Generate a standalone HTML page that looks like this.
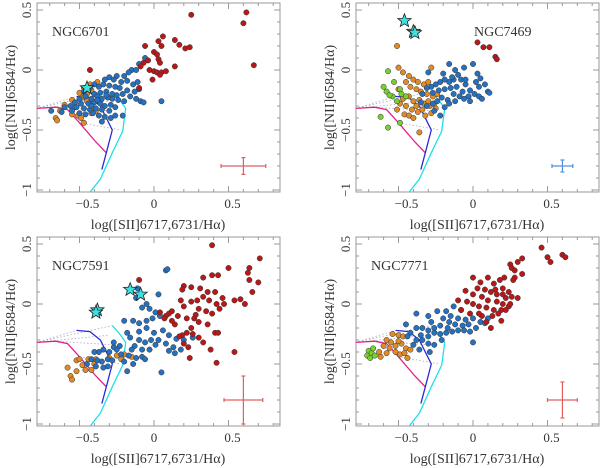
<!DOCTYPE html>
<html><head><meta charset="utf-8"><style>
body{margin:0;background:#fff}
svg{display:block}
text{font-family:"Liberation Serif",serif;fill:#333}
</style></head><body>
<svg id="c" width="600" height="468" viewBox="0 0 600 468"></svg>
<script>
const panelNames=["NGC6701","NGC7469","NGC7591","NGC7771"];
const xTicks=[-0.5,0,0.5];
const yTicks=[-1,-0.5,0,0.5];
const xTickLabels=["\u22120.5","0","0.5"];
const yTickLabels=["\u22121","\u22120.5","0","0.5"];
const magentaCurve=[[-0.79,-0.32],[-0.66,-0.31],[-0.58,-0.33],[-0.5,-0.44],[-0.39,-0.6],[-0.32,-0.69]];
const blueCurve=[[-0.52,-0.22],[-0.43,-0.23],[-0.36,-0.3],[-0.32,-0.4],[-0.28,-0.5],[-0.32,-0.69],[-0.35,-0.83]];
const cyanCurve=[[-0.28,-0.18],[-0.23,-0.25],[-0.19,-0.32],[-0.21,-0.51],[-0.28,-0.69],[-0.36,-0.91],[-0.43,-1.02]];
const dottedLines=[[[-0.79,-0.32],[-0.52,-0.22]],[[-0.79,-0.32],[-0.28,-0.18]],[[-0.79,-0.32],[-0.3,-0.26]],[[-0.66,-0.31],[-0.28,-0.34]],[[-0.5,-0.44],[-0.22,-0.5]]];
const p1Red=[[0.25,0.46],[0.62,0.48],[0.6,0.39],[0.67,0.04],[-0.43,0.0],[0.06,0.28],[0.03,0.24],[-0.06,0.2],[0.05,0.2],[0.14,0.25],[0.17,0.21],[0.21,0.18],[0.24,0.19],[0,0.15],[0.02,0.13],[0.03,0.09],[0.04,0.06],[-0.04,0.08],[-0.07,0.06],[-0.03,0.0],[0,-0.01],[0.02,-0.02],[0.05,-0.02],[0.08,-0.01],[-0.01,-0.08],[0.14,0.03],[-0.1,-0.15],[-0.09,0.03],[0.04,-0.04]];
const p1Blue=[[-0.06,0.1],[-0.1,0.05],[-0.15,0.0],[-0.12,0.0],[-0.17,-0.02],[-0.2,-0.05],[-0.25,-0.05],[-0.27,-0.08],[-0.3,-0.06],[-0.33,-0.08],[-0.22,-0.1],[-0.18,-0.09],[-0.14,-0.12],[-0.11,-0.1],[-0.1,-0.16],[-0.13,-0.18],[-0.18,-0.17],[-0.23,-0.15],[-0.26,-0.14],[-0.3,-0.13],[-0.34,-0.12],[-0.37,-0.14],[-0.4,-0.12],[-0.43,-0.15],[-0.47,-0.18],[-0.4,-0.2],[-0.36,-0.19],[-0.32,-0.18],[-0.28,-0.2],[-0.25,-0.21],[-0.21,-0.2],[-0.16,-0.22],[-0.12,-0.24],[-0.09,-0.26],[-0.07,-0.27],[0.05,-0.26],[-0.2,-0.26],[-0.24,-0.25],[-0.28,-0.24],[-0.31,-0.23],[-0.35,-0.24],[-0.38,-0.22],[-0.42,-0.24],[-0.46,-0.22],[-0.5,-0.24],[-0.53,-0.27],[-0.49,-0.28],[-0.44,-0.28],[-0.4,-0.27],[-0.36,-0.28],[-0.33,-0.3],[-0.29,-0.29],[-0.26,-0.31],[-0.3,-0.34],[-0.35,-0.33],[-0.39,-0.32],[-0.43,-0.33],[-0.47,-0.32],[-0.52,-0.31],[-0.56,-0.3],[-0.6,-0.31],[-0.55,-0.34],[-0.5,-0.36],[-0.46,-0.37],[-0.41,-0.36],[-0.37,-0.38],[-0.33,-0.39],[-0.29,-0.4],[-0.26,-0.38],[-0.21,-0.38],[-0.35,-0.43],[-0.62,-0.35],[-0.69,-0.34],[-0.42,-0.3],[-0.38,-0.25],[-0.32,-0.21]];
const p1Orange=[[-0.38,-0.1],[-0.43,-0.12],[-0.47,-0.15],[-0.42,-0.17],[-0.45,-0.2],[-0.5,-0.19],[-0.42,-0.28],[-0.53,-0.31],[-0.6,-0.29],[-0.63,-0.34],[-0.66,-0.4],[-0.65,-0.42],[-0.55,-0.37],[-0.51,-0.38],[-0.49,-0.4],[-0.47,-0.44],[-0.42,-0.36],[-0.39,-0.34],[-0.55,-0.25],[-0.48,-0.23],[-0.45,-0.26]];
const p1Green=[];
const p1Stars=[[-0.45,-0.15]];
const p1Err=[0.6,-0.8,0.15,0.07];
const p2Red=[[0.03,0.23],[0.07,0.19],[0.11,0.19],[0.15,0.11],[0.16,0.09]];
const p2Blue=[[-0.3,-0.02],[-0.2,-0.03],[-0.16,0.05],[-0.12,0.0],[-0.06,0.02],[0.0,0.05],[0.03,-0.03],[0.05,-0.07],[0.08,-0.12],[0.1,-0.18],[0.11,-0.19],[0.04,-0.22],[0.06,-0.24],[0.01,-0.2],[-0.02,-0.17],[-0.05,-0.12],[-0.08,-0.08],[-0.1,-0.04],[-0.13,-0.08],[-0.16,-0.1],[-0.19,-0.08],[-0.22,-0.1],[-0.25,-0.12],[-0.28,-0.14],[-0.31,-0.15],[-0.27,-0.19],[-0.23,-0.17],[-0.19,-0.16],[-0.15,-0.15],[-0.11,-0.14],[-0.07,-0.18],[-0.03,-0.22],[-0.09,-0.22],[-0.13,-0.2],[-0.17,-0.25],[-0.21,-0.23],[-0.24,-0.26],[-0.27,-0.28],[-0.31,-0.3],[-0.35,-0.27],[-0.19,-0.31],[-0.16,-0.28],[-0.12,-0.26],[-0.06,-0.24],[-0.02,-0.26],[-0.22,-0.38],[-0.26,-0.34],[-0.05,-0.08],[0.04,-0.14],[0.02,-0.1],[-0.14,-0.06],[-0.34,-0.2]];
const p2Orange=[[-0.51,0.2],[-0.5,0.02],[-0.47,-0.02],[-0.43,-0.05],[-0.4,-0.08],[-0.37,-0.1],[-0.33,-0.12],[-0.3,-0.1],[-0.28,0.02],[-0.45,-0.1],[-0.42,-0.14],[-0.38,-0.16],[-0.35,-0.18],[-0.31,-0.2],[-0.27,-0.22],[-0.5,-0.16],[-0.47,-0.24],[-0.43,-0.22],[-0.4,-0.26],[-0.36,-0.25],[-0.33,-0.28],[-0.29,-0.3],[-0.25,-0.32],[-0.45,-0.3],[-0.41,-0.33],[-0.37,-0.35],[-0.32,-0.38],[-0.28,-0.36],[-0.46,-0.37],[-0.43,-0.38],[-0.4,-0.4],[-0.36,-0.52],[-0.49,-0.28],[-0.51,-0.33],[-0.38,-0.3],[-0.34,-0.33],[-0.3,-0.26],[-0.26,-0.28],[-0.24,-0.2]];
const p2Green=[[-0.57,-0.01],[-0.53,-0.1],[-0.6,-0.14],[-0.58,-0.18],[-0.54,-0.22],[-0.49,-0.16],[-0.48,-0.2],[-0.45,-0.22],[-0.62,-0.39],[-0.57,-0.48],[-0.49,-0.44],[-0.51,-0.26],[-0.56,-0.21]];
const p2Stars=[[-0.46,0.41],[-0.4,0.32],[-0.39,0.31]];
const p2Err=[0.6,-0.8,0.07,0.05];
const p3Red=[[0.39,0.49],[0.71,0.38],[0.64,0.3],[0.5,0.3],[0.63,0.26],[0.7,0.18],[0.64,0.2],[0.43,0.24],[0.39,0.24],[0.33,0.22],[0.2,0.15],[0.19,0.12],[0.25,0.14],[0.31,0.13],[0.36,0.1],[0.41,0.1],[0.46,0.05],[0.58,0.04],[0.66,0.1],[0.61,0.0],[0.54,0.03],[0.47,0.0],[0.42,0.0],[0.37,0.03],[0.33,0.06],[0.29,0.03],[0.25,0.02],[0.18,0.03],[0.2,-0.02],[0.3,-0.04],[0.35,-0.06],[0.39,-0.08],[0.44,-0.04],[0.28,-0.09],[0.22,-0.12],[0.16,-0.1],[0.12,-0.06],[0.1,-0.08],[0.08,-0.1],[0.14,-0.17],[0.3,-0.15],[0.36,-0.17],[0.25,-0.2],[0.22,-0.24],[0.19,-0.26],[0.26,-0.25],[0.3,-0.28],[0.33,-0.32],[0.2,-0.33],[0.23,-0.36],[0.17,-0.27],[0.41,-0.24],[0.43,-0.24],[0.38,-0.38],[0.54,-0.4],[0.24,-0.45],[0.42,-0.49],[-0.1,0.2],[0.04,-0.07],[0.07,-0.12],[0.12,-0.14],[0.27,-0.12]];
const p3Blue=[[0.08,0.28],[0.09,0.29],[-0.11,0.13],[-0.05,0.0],[0.03,0.08],[-0.12,0.05],[-0.08,-0.03],[-0.03,-0.04],[0.01,-0.07],[0.04,-0.1],[-0.01,-0.12],[-0.05,-0.14],[-0.1,-0.16],[-0.14,-0.14],[-0.2,-0.14],[-0.1,-0.23],[-0.05,-0.2],[0,-0.24],[0.06,-0.22],[0.1,-0.26],[0.03,-0.3],[-0.02,-0.3],[-0.06,-0.32],[-0.1,-0.3],[-0.13,-0.35],[-0.08,-0.38],[-0.03,-0.38],[0.01,-0.34],[0.08,-0.33],[0.13,-0.36],[0.18,-0.38],[0.26,-0.28],[0.15,-0.29],[0.2,-0.3],[-0.16,-0.28],[-0.18,-0.24],[-0.23,-0.35],[-0.27,-0.36],[-0.3,-0.4],[-0.34,-0.38],[-0.37,-0.4],[-0.4,-0.4],[-0.38,-0.47],[-0.35,-0.48],[-0.31,-0.46],[-0.28,-0.47],[-0.31,-0.52],[-0.34,-0.53],[-0.42,-0.46],[-0.45,-0.5],[-0.39,-0.52],[-0.17,-0.43],[-0.12,-0.45],[-0.08,-0.44],[-0.2,-0.48],[-0.14,-0.5],[-0.18,-0.56],[0.05,-0.57],[-0.06,-0.46],[-0.15,-0.38],[-0.27,-0.32],[0.14,-0.41],[0.1,-0.39],[-0.22,-0.42],[-0.25,-0.38]];
const p3Orange=[[-0.58,-0.53],[-0.56,-0.6],[-0.55,-0.63],[-0.52,-0.47],[-0.5,-0.46],[-0.48,-0.51],[-0.46,-0.55],[-0.42,-0.55],[-0.4,-0.5],[-0.39,-0.46],[-0.44,-0.46],[-0.52,-0.56],[-0.3,-0.45],[-0.25,-0.43],[-0.22,-0.46],[-0.2,-0.42],[-0.15,-0.44]];
const p3Green=[];
const p3Stars=[[-0.38,-0.05],[-0.39,-0.07],[-0.16,0.12],[-0.09,0.08]];
const p3Err=[0.6,-0.8,0.13,0.2];
const p4Red=[[0.46,0.47],[0.5,0.39],[0.52,0.35],[0.6,0.41],[0.62,0.39],[0.33,0.38],[0.3,0.35],[0.25,0.33],[0.26,0.3],[0.28,0.28],[0.33,0.25],[0.28,0.22],[0.27,0.2],[0.21,0.22],[0.18,0.2],[0.1,0.22],[0.0,0.22],[0.05,0.18],[0.14,0.17],[0.2,0.13],[0.24,0.1],[0.26,0.06],[0.3,0.05],[0.22,0.05],[0.16,0.08],[0.12,0.1],[0.08,0.12],[0.03,0.13],[-0.05,0.11],[0.0,0.08],[0.06,0.06],[0.1,0.03],[0.16,0.02],[0.2,0.0],[0.24,-0.02],[0.19,-0.05],[0.14,-0.05],[0.09,-0.03],[0.04,-0.02],[0.0,0.0],[-0.04,0.02],[-0.08,-0.05],[0.06,-0.1],[0.13,-0.1],[0.17,-0.08],[0.22,-0.05],[0.19,-0.14],[0.12,-0.2],[0.09,-0.15],[0.04,-0.08],[-0.02,-0.08],[-0.1,0.03],[0.15,0.12],[0.2,0.08],[0.25,0.0]];
const p4Blue=[[-0.08,-0.05],[-0.13,-0.02],[-0.18,-0.06],[-0.24,-0.06],[-0.3,-0.1],[-0.2,-0.12],[-0.15,-0.1],[-0.1,-0.12],[-0.05,-0.13],[0.0,-0.12],[0.05,-0.15],[0.08,-0.16],[0.1,-0.12],[-0.03,-0.17],[-0.07,-0.18],[-0.12,-0.17],[-0.17,-0.2],[-0.22,-0.18],[-0.26,-0.2],[-0.3,-0.22],[-0.34,-0.2],[-0.38,-0.08],[-0.38,-0.2],[-0.42,-0.24],[-0.35,-0.26],[-0.3,-0.27],[-0.26,-0.24],[-0.22,-0.25],[-0.18,-0.24],[-0.14,-0.23],[-0.1,-0.22],[-0.06,-0.22],[-0.02,-0.23],[0.02,-0.2],[0.0,-0.32],[-0.34,-0.3],[-0.38,-0.3],[-0.3,-0.33],[-0.26,-0.34],[-0.21,-0.3],[-0.4,-0.34],[-0.36,-0.38],[-0.29,-0.4],[-0.44,-0.27],[-0.28,-0.15],[-0.16,-0.15],[-0.45,-0.17]];
const p4Orange=[[-0.54,-0.25],[-0.5,-0.26],[-0.47,-0.27],[-0.58,-0.3],[-0.55,-0.32],[-0.6,-0.35],[-0.56,-0.37],[-0.52,-0.35],[-0.48,-0.33],[-0.45,-0.37],[-0.42,-0.38],[-0.52,-0.4],[-0.49,-0.42],[-0.46,-0.41],[-0.63,-0.4],[-0.62,-0.44],[-0.44,-0.45],[-0.5,-0.31],[-0.58,-0.41]];
const p4Green=[[-0.7,-0.39],[-0.68,-0.41],[-0.71,-0.43],[-0.67,-0.37],[-0.69,-0.45],[-0.66,-0.43]];
const p4Stars=[];
const p4Err=[0.6,-0.8,0.1,0.15];

const NS="http://www.w3.org/2000/svg";
const svg=document.getElementById('c');
function mk(tag,attrs,parent){const e=document.createElementNS(NS,tag);for(const k in attrs)e.setAttribute(k,attrs[k]);(parent||svg).appendChild(e);return e;}
const panels=[
 {ox:37,oy:3,red:p1Red,blue:p1Blue,orange:p1Orange,green:p1Green,stars:p1Stars,err:p1Err,errColor:"#e06060",labX:52,labY:36,ylx:10,xlc:158},
 {ox:356,oy:3,red:p2Red,blue:p2Blue,orange:p2Orange,green:p2Green,stars:p2Stars,err:p2Err,errColor:"#5090e0",labX:474,labY:36,ylx:329,xlc:477},
 {ox:37,oy:237,red:p3Red,blue:p3Blue,orange:p3Orange,green:p3Green,stars:p3Stars,err:p3Err,errColor:"#e06060",labX:52,labY:270,ylx:10,xlc:158},
 {ox:356,oy:237,red:p4Red,blue:p4Blue,orange:p4Orange,green:p4Green,stars:p4Stars,err:p4Err,errColor:"#e06060",labX:371,labY:270,ylx:329,xlc:477}
];
const W=243,H=189,SX=149,SY=120;
panels.forEach((p,i)=>{
 const g=mk('g',{});
 
 
 const x0=p.ox+117, y0=p.oy+67;
 const xs=v=>x0+v*SX, ys=v=>y0-v*SY;
 const cl='pc'+i;
 const cp=mk('clipPath',{id:cl},g);mk('rect',{x:p.ox,y:p.oy,width:W,height:H},cp);
 const frame=mk('rect',{x:p.ox,y:p.oy,width:W,height:H,fill:'none',stroke:'#999','stroke-width':1},g);
 
 
 for(let k=-8;k<=8;k++){const v=k/10,x=xs(v);if(x<p.ox||x>p.ox+W)continue;const L=(k%5===0)?6:3;
  mk('line',{x1:x,y1:p.oy+H,x2:x,y2:p.oy+H-L,stroke:'#999'},g);mk('line',{x1:x,y1:p.oy,x2:x,y2:p.oy+L,stroke:'#999'},g);}
 for(let k=-10;k<=5;k++){const v=k/10,y=ys(v);if(y<p.oy||y>p.oy+H)continue;const L=(k%5===0)?6:3;
  mk('line',{x1:p.ox,y1:y,x2:p.ox+L,y2:y,stroke:'#999'},g);mk('line',{x1:p.ox+W,y1:y,x2:p.ox+W-L,y2:y,stroke:'#999'},g);}
 xTicks.forEach((v,j)=>{const t=mk('text',{x:xs(v)+(v<0?8:(v>0?4:0)),y:p.oy+H+16,'text-anchor':'middle','font-size':13},g);t.textContent=xTickLabels[j];
  
  });
 yTicks.forEach((v,j)=>{const y=ys(v);const t=mk('text',{x:0,y:0,'text-anchor':'middle','font-size':13,transform:`translate(${p.ox-6},${y}) rotate(-90)`},g);t.textContent=yTickLabels[j];
  
  });
 const xl=mk('text',{x:p.xlc,y:p.oy+H+37,'text-anchor':'middle','font-size':14},g);xl.textContent='log([SII]6717,6731/H\u03b1)';
 
 
 const yl=mk('text',{x:0,y:0,'text-anchor':'middle','font-size':14,transform:`translate(${p.ylx+5},${p.oy+H/2}) rotate(-90)`},g);yl.textContent='log([NII]6584/H\u03b1)';
 
 
 const nm=mk('text',{x:p.labX,y:p.labY,'font-size':14},g);nm.textContent=panelNames[i];
 
 
 const inner=mk('g',{'clip-path':`url(#${cl})`},g);
 dottedLines.forEach(l=>{const d=mk('line',{x1:xs(l[0][0]),y1:ys(l[0][1]),x2:xs(l[1][0]),y2:ys(l[1][1]),stroke:'#aab','stroke-width':0.8,'stroke-dasharray':'1.5,2'},inner);
  
  });
 [[magentaCurve,'#e0208a','magenta-model-curve'],[blueCurve,'#2a2ad0','blue-model-curve'],[cyanCurve,'#20e0e8','cyan-model-curve']].forEach(c=>{
  const pl=mk('polyline',{points:c[0].map(q=>xs(q[0])+','+ys(q[1])).join(' '),fill:'none',stroke:c[1],'stroke-width':1.3},inner);
  
  });
 const dot=(arr,col,name)=>arr.forEach(q=>{const c=mk('circle',{cx:xs(q[0]),cy:ys(q[1]),r:2.7,fill:col,stroke:'#333','stroke-width':0.5},inner);
  
  });
 dot(p.orange,'#e08a28','orange-point');
 dot(p.green,'#78d030','green-point');
 dot(p.blue,'#2670c0','blue-point');
 dot(p.red,'#b81818','red-point');
 p.stars.forEach(q=>{const cx=xs(q[0]),cy=ys(q[1]);let pts=[];for(let k=0;k<10;k++){const r=k%2?3:7,a=-Math.PI/2+k*Math.PI/5;pts.push((cx+r*Math.cos(a)).toFixed(1)+','+(cy+r*Math.sin(a)).toFixed(1));}
  const s=mk('polygon',{points:pts.join(' '),fill:'#3de0e0',stroke:'#222','stroke-width':0.8},inner);
  
  });
 const e=p.err,eg=mk('g',{stroke:p.errColor,'stroke-width':1.2},inner);
 
 
 mk('line',{x1:xs(e[0]-e[2]),y1:ys(e[1]),x2:xs(e[0]+e[2]),y2:ys(e[1])},eg);
 mk('line',{x1:xs(e[0]),y1:ys(e[1]-e[3]),x2:xs(e[0]),y2:ys(e[1]+e[3])},eg);
 [[xs(e[0]-e[2]),ys(e[1]),1],[xs(e[0]+e[2]),ys(e[1]),1],[xs(e[0]),ys(e[1]-e[3]),0],[xs(e[0]),ys(e[1]+e[3]),0]].forEach(c=>{
  if(c[2])mk('line',{x1:c[0],y1:c[1]-2,x2:c[0],y2:c[1]+2},eg);else mk('line',{x1:c[0]-2,y1:c[1],x2:c[0]+2,y2:c[1]},eg);});
});
</script>
</body></html>
